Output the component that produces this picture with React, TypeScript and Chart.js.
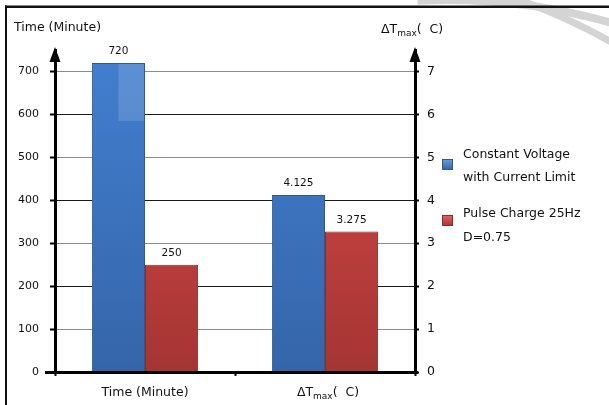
import React, { useEffect, useRef } from 'react';
import { Chart, registerables } from 'chart.js';

Chart.register(...registerables);

// ---- data ----
const categories = ['Time (Minute)', 'ΔTmax( C)'];
const seriesNames = ['Constant Voltage\nwith Current Limit', 'Pulse Charge 25Hz\nD=0.75'];
const timeMinutes = [720, 250]; // [Constant Voltage, Pulse Charge]
const deltaTmax = [4.125, 3.275]; // [Constant Voltage, Pulse Charge]
const leftTicks = [0, 100, 200, 300, 400, 500, 600, 700];
const rightTicks = [0, 1, 2, 3, 4, 5, 6, 7];
const leftMax = 750;
const rightMax = 7.5;

const FONT = "'DejaVu Sans', Verdana, sans-serif";
const seriesTop = ['#427fd0', '#dc4b48'];
const seriesBottom = ['#3565a9', '#a43533'];
const seriesBorder = ['#2d5a96', '#8a2c2a'];

function makeGrad(chart: any, s: number) {
  const area = chart.chartArea;
  if (!area) return seriesTop[s];
  const g = chart.ctx.createLinearGradient(0, area.top, 0, area.bottom);
  g.addColorStop(0, seriesTop[s]);
  g.addColorStop(1, seriesBottom[s]);
  return g;
}

function drawDelta(c: CanvasRenderingContext2D, x: number, y: number, align: 'left' | 'center', size: number) {
  const big = `${size}px ${FONT}`;
  const small = `${Math.round(size * 0.72)}px ${FONT}`;
  c.font = big;
  const w1 = c.measureText('ΔT').width;
  c.font = small;
  const w2 = c.measureText('max').width;
  c.font = big;
  const w3 = c.measureText('(  C)').width;
  const total = w1 + w2 + w3;
  const sx = align === 'center' ? x - total / 2 : x;
  c.textAlign = 'left';
  c.textBaseline = 'middle';
  c.font = big;
  c.fillText('ΔT', sx, y);
  c.font = small;
  c.fillText('max', sx + w1, y + 3.5);
  c.font = big;
  c.fillText('(  C)', sx + w1 + w2, y);
}

const decorPlugin = {
  id: 'decor',
  beforeDraw(chart: any) {
    const c = chart.ctx as CanvasRenderingContext2D;
    c.save();
    c.fillStyle = '#ffffff';
    c.fillRect(0, 0, chart.width, chart.height);
    // decorative gray swooshes top-right
    c.strokeStyle = '#d4d4d4';
    c.lineWidth = 8;
    c.beginPath();
    c.arc(447, 600, 600, -1.62, -1.2);
    c.stroke();
    c.lineWidth = 7;
    c.beginPath();
    c.arc(300, 600, 639, -1.25, -0.95);
    c.stroke();
    // frame
    c.fillStyle = '#111';
    c.fillRect(5, 5.5, chart.width - 5, 2.5);
    c.fillRect(5, 5.5, 2, chart.height);
    c.restore();
  },
  afterDatasetsDraw(chart: any) {
    const c = chart.ctx as CanvasRenderingContext2D;
    c.save();
    // gloss on first bar
    const m0 = chart.getDatasetMeta(0);
    const el = m0.data[0];
    if (el) {
      c.fillStyle = 'rgba(255,255,255,0.14)';
      c.fillRect(el.x, el.y + 1, el.width / 2 - 1, 57);
    }
    // value labels
    c.fillStyle = '#111';
    c.font = `10.5px ${FONT}`;
    c.textAlign = 'center';
    c.textBaseline = 'bottom';
    chart.data.datasets.forEach((ds: any, i: number) => {
      const meta = chart.getDatasetMeta(i);
      ds.data.forEach((v: any, j: number) => {
        if (v === null || v === undefined) return;
        const e = meta.data[j];
        c.fillText(String(v), e.x, e.y - 6);
      });
    });
    c.restore();
  },
  afterDraw(chart: any) {
    const c = chart.ctx as CanvasRenderingContext2D;
    const area = chart.chartArea;
    c.save();
    c.fillStyle = '#000';
    // bottom axis line (extends past both axes)
    c.fillRect(45, area.bottom - 1, 418 - 45, 3);
    // arrow heads
    [area.left, area.right].forEach((x: number) => {
      c.beginPath();
      c.moveTo(x, area.top - 3);
      c.lineTo(x - 5.5, area.top + 12);
      c.lineTo(x + 5.5, area.top + 12);
      c.closePath();
      c.fill();
    });
    // titles
    c.fillStyle = '#111';
    c.font = `12.5px ${FONT}`;
    c.textAlign = 'left';
    c.textBaseline = 'middle';
    c.fillText(categories[0], 14, 28);
    drawDelta(c, 381, 30, 'left', 12.5);
    // category labels
    const xs = chart.scales.x;
    c.font = `12.5px ${FONT}`;
    c.textAlign = 'center';
    c.fillText(categories[0], xs.getPixelForValue(0), 393);
    drawDelta(c, xs.getPixelForValue(1) + 3, 393, 'center', 12.5);
    // legend
    const sq = [159, 215];
    const textY = [[155, 178], [214, 238]];
    seriesNames.forEach((name, s) => {
      const g = c.createLinearGradient(0, sq[s], 0, sq[s] + 11);
      g.addColorStop(0, s === 0 ? '#6a9ee0' : '#e86462');
      g.addColorStop(1, s === 0 ? '#2f62a6' : '#a83231');
      c.fillStyle = g;
      c.fillRect(442, sq[s], 11, 11);
      c.strokeStyle = seriesBorder[s];
      c.lineWidth = 1;
      c.strokeRect(442.5, sq[s] + 0.5, 10, 10);
      c.fillStyle = '#111';
      c.font = `12.5px ${FONT}`;
      c.textAlign = 'left';
      c.textBaseline = 'middle';
      name.split('\n').forEach((line, k) => c.fillText(line, 463, textY[s][k]));
    });
    c.restore();
  },
};

export default function App() {
  const ref = useRef<HTMLCanvasElement | null>(null);
  useEffect(() => {
    if (!ref.current) return;
    const mk = (label: string, data: any[], axis: string, s: number) => ({
      label,
      data,
      yAxisID: axis,
      skipNull: true,
      backgroundColor: (ctx: any) => makeGrad(ctx.chart, s),
      borderColor: seriesBorder[s],
      borderWidth: 1,
      barPercentage: 1,
      categoryPercentage: 0.59,
    });
    const chart = new Chart(ref.current, {
      type: 'bar',
      data: {
        labels: categories,
        datasets: [
          mk(seriesNames[0], [timeMinutes[0], null], 'y', 0),
          mk(seriesNames[0], [null, deltaTmax[0]], 'y1', 0),
          mk(seriesNames[1], [timeMinutes[1], null], 'y', 1),
          mk(seriesNames[1], [null, deltaTmax[1]], 'y1', 1),
        ],
      },
      options: {
        animation: false,
        responsive: false,
        devicePixelRatio: 1,
        layout: { padding: { top: 50, left: 0, right: 0, bottom: 0 } },
        plugins: { legend: { display: false }, tooltip: { enabled: false } },
        scales: {
          x: {
            type: 'category',
            offset: true,
            afterFit: (s: any) => { s.height = 33; },
            ticks: { display: false },
            grid: {
              display: true,
              drawOnChartArea: false,
              drawTicks: true,
              tickLength: 4,
              tickColor: '#000',
              tickWidth: 2,
              offset: true,
            },
            border: { display: false },
          },
          y: {
            type: 'linear',
            position: 'left',
            min: 0,
            max: leftMax,
            afterFit: (s: any) => { s.width = 55; },
            afterBuildTicks: (s: any) => { s.ticks = leftTicks.map((v) => ({ value: v })); },
            ticks: { font: { family: FONT, size: 11 }, color: '#111', padding: 11 },
            grid: {
              color: (ctx: any) => (ctx.tick && (ctx.tick.value / 100) % 2 === 1 ? '#8c8c8c' : '#1a1a1a'),
              lineWidth: 1,
              tickLength: 5,
              tickColor: '#000',
              tickWidth: 2,
            },
            border: { display: true, color: '#000', width: 3 },
          },
          y1: {
            type: 'linear',
            position: 'right',
            min: 0,
            max: rightMax,
            afterFit: (s: any) => { s.width = 194; },
            afterBuildTicks: (s: any) => { s.ticks = rightTicks.map((v) => ({ value: v })); },
            ticks: { font: { family: FONT, size: 12.5 }, color: '#111', padding: 8 },
            grid: {
              drawOnChartArea: false,
              tickLength: 4,
              tickColor: '#000',
              tickWidth: 2,
            },
            border: { display: true, color: '#000', width: 3 },
          },
        },
      },
      plugins: [decorPlugin],
    } as any);
    return () => chart.destroy();
  }, []);
  return (
    <div style={{ position: 'absolute', left: 0, top: 0, width: 609, height: 405 }}>
      <canvas ref={ref} width={609} height={405} style={{ width: 609, height: 405, display: 'block' }} />
    </div>
  );
}
